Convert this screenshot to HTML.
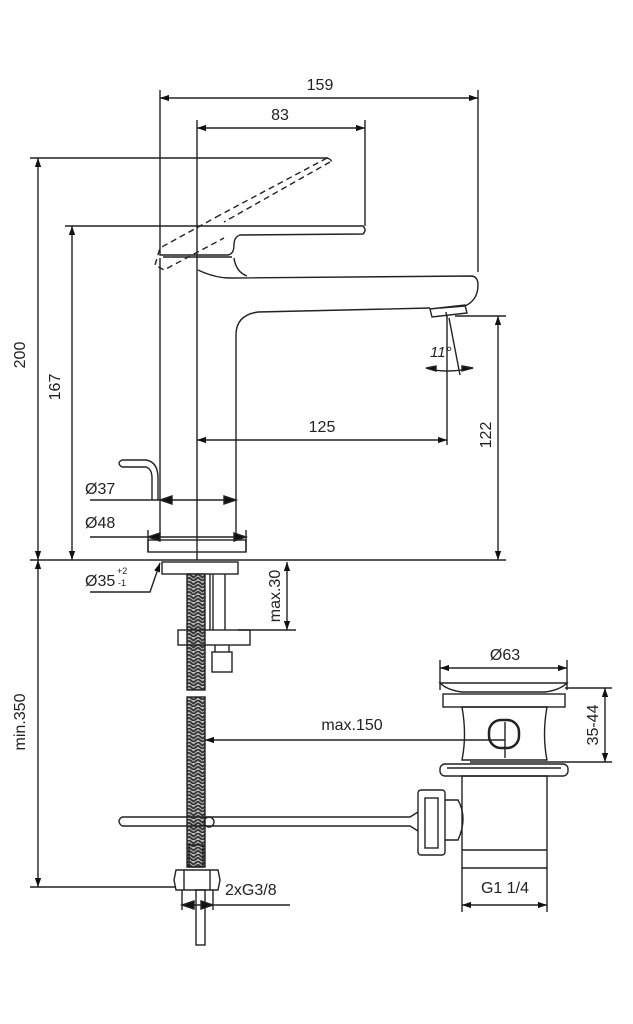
<!DOCTYPE html>
<html><head><meta charset="utf-8"><style>
html,body{margin:0;padding:0;background:#fff}
svg{display:block}
text{font-family:"Liberation Sans",sans-serif;font-size:16px;fill:#222}
</style></head><body>
<svg width="633" height="1024" viewBox="0 0 633 1024" xmlns="http://www.w3.org/2000/svg">
<defs>
<marker id="a" viewBox="0 0 10 10" refX="10" refY="5" markerWidth="9" markerHeight="9" orient="auto-start-reverse" markerUnits="userSpaceOnUse"><path d="M0,1.5 L10,5 L0,8.5z" fill="#111"/></marker>
<pattern id="h" width="9" height="7" patternUnits="userSpaceOnUse"><rect width="9" height="7" fill="#bbb"/><path d="M0,0 L4.5,3.5 L9,0 M0,3.5 L4.5,7 L9,3.5" stroke="#333" stroke-width="1.8" fill="none"/></pattern>
</defs>
<g stroke="#222" stroke-width="1.4" fill="none">
<line x1="160" y1="98" x2="478" y2="98" marker-start="url(#a)" marker-end="url(#a)"/>
<line x1="197" y1="128" x2="365" y2="128" marker-start="url(#a)" marker-end="url(#a)"/>
<line x1="160" y1="90" x2="160" y2="226"/>
<line x1="478" y1="90" x2="478" y2="272"/>
<line x1="197" y1="120" x2="197" y2="226"/>
<line x1="365" y1="120" x2="365" y2="226"/>
<line x1="38" y1="158" x2="38" y2="560" marker-start="url(#a)" marker-end="url(#a)"/>
<line x1="30" y1="158" x2="328" y2="158"/>
<line x1="72" y1="226" x2="72" y2="560" marker-start="url(#a)" marker-end="url(#a)"/>
<line x1="65" y1="226" x2="160" y2="226"/>
<path d="M160,226 L363,226 Q367,230 363,234 L240,235 Q234,237 234,245 Q234,254 228,255 L160,255 Z"/>
<line x1="163" y1="257" x2="232" y2="257"/>
<path d="M327,158 L220,215 M330,162 L224,222" stroke-dasharray="6,4"/>
<path d="M327,158 Q334,160 330,165 M220,215 L160,248 L155,265 L164,270 L224,238" stroke-dasharray="6,4"/>
<path d="M198,270 Q215,278 230,278 L472,276 Q478,277 478,285 Q478,300 465,306 L440,308"/>
<path d="M234,258 Q236,272 247,276"/>
<path d="M160,258 L160,535 M236,535 L236,335 Q236,315 258,312 L430,308"/>
<path d="M430,309 L465,305 L467,313 L432,317 Z"/>
<line x1="446" y1="312" x2="447" y2="318"/>
<line x1="498" y1="316" x2="498" y2="560" marker-start="url(#a)" marker-end="url(#a)"/>
<line x1="455" y1="316" x2="506" y2="316"/>
<line x1="447" y1="316" x2="447" y2="445"/>
<line x1="449" y1="318" x2="460" y2="375"/>
<path d="M426,368 Q445,374 473,368"/>
<path d="M436,366 L426,368 L436,371z M462,366 L473,368 L462,371z" fill="#111"/>
<line x1="197" y1="440" x2="447" y2="440" marker-start="url(#a)" marker-end="url(#a)"/>
<line x1="197" y1="226" x2="197" y2="560"/>
<path d="M122,460 L146,460 Q158,462 158,478 L158,500 M122,467 L146,467 Q152,469 152,478 L152,500"/>
<path d="M122,460 Q116,463 122,467"/>
<line x1="90" y1="500" x2="236" y2="500"/>
<path d="M160,500 L172,496 L172,504z M236,500 L224,496 L224,504z" fill="#111"/>
<line x1="90" y1="537" x2="246" y2="537"/>
<path d="M148,537 L160,533 L160,541z M246,537 L234,533 L234,541z" fill="#111"/>
<line x1="148" y1="530" x2="148" y2="552"/><line x1="246" y1="530" x2="246" y2="552"/>
<rect x="148" y="540" width="98" height="12"/>
<line x1="30" y1="560" x2="506" y2="560"/>
<rect x="162" y="562" width="76" height="12"/>
<polyline points="90,592 150,592 160,563" marker-end="url(#a)"/>
<rect x="187" y="574" width="18" height="116" fill="url(#h)"/>
<rect x="187" y="697" width="18" height="170" fill="url(#h)"/>
<line x1="210" y1="574" x2="210" y2="630"/><line x1="213" y1="574" x2="213" y2="630"/><line x1="225" y1="574" x2="225" y2="630"/>
<rect x="178" y="630" width="72" height="15"/>
<rect x="212" y="652" width="20" height="20"/>
<line x1="215" y1="645" x2="215" y2="652"/><line x1="229" y1="645" x2="229" y2="652"/>
<line x1="287" y1="562" x2="287" y2="630" marker-start="url(#a)" marker-end="url(#a)"/>
<line x1="238" y1="630" x2="296" y2="630"/>
<line x1="205" y1="740" x2="505" y2="740" marker-start="url(#a)"/>
<line x1="440" y1="668" x2="567" y2="668" marker-start="url(#a)" marker-end="url(#a)"/>
<line x1="440" y1="660" x2="440" y2="690"/><line x1="567" y1="660" x2="567" y2="690"/>
<path d="M440,683 L567,683 Q560,690 545,692 L462,692 Q447,690 440,683Z"/>
<rect x="443" y="694" width="122" height="13"/>
<path d="M462,707 L547,707 Q542,735 547,760 L462,760 Q467,735 462,707Z"/>
<line x1="565" y1="688" x2="612" y2="688"/><line x1="470" y1="762" x2="612" y2="762"/>
<rect x="489" y="720" width="30" height="28" rx="12" stroke-width="2.5"/>
<line x1="505" y1="722" x2="505" y2="758"/>
<rect x="440" y="764" width="128" height="12" rx="5"/>
<line x1="447" y1="768" x2="561" y2="768"/>
<path d="M462,776 L547,776 L547,868 L462,868 Z M462,850 L547,850"/>
<path d="M445,800 L458,800 Q468,818 458,840 L445,840"/>
<rect x="418" y="790" width="27" height="65" rx="3"/>
<rect x="425" y="798" width="13" height="50"/>
<line x1="605" y1="688" x2="605" y2="762" marker-start="url(#a)" marker-end="url(#a)"/>
<path d="M122,817 L410,817 L418,812 M122,826 L410,826 L418,831"/>
<path d="M122,817 Q116,821 122,826"/>
<circle cx="209" cy="822" r="5"/>
<line x1="462" y1="868" x2="462" y2="912"/><line x1="547" y1="868" x2="547" y2="912"/>
<line x1="462" y1="905" x2="547" y2="905" marker-start="url(#a)" marker-end="url(#a)"/>
<line x1="38" y1="560" x2="38" y2="887" marker-start="url(#a)" marker-end="url(#a)"/>
<line x1="30" y1="887" x2="175" y2="887"/>
<rect x="189" y="845" width="14" height="22"/>
<path d="M176,870 L218,870 L220,880 L218,890 L176,890 L174,880Z"/>
<line x1="184" y1="870" x2="184" y2="890"/><line x1="210" y1="870" x2="210" y2="890"/>
<rect x="196" y="890" width="9" height="55"/>
<line x1="182" y1="890" x2="182" y2="910"/><line x1="213" y1="890" x2="213" y2="910"/>
<line x1="182" y1="905" x2="290" y2="905"/>
<path d="M182,905 L194,901 L194,909z M213,905 L201,901 L201,909z" fill="#111"/>
</g>
<text x="320" y="90" text-anchor="middle">159</text>
<text x="280" y="120" text-anchor="middle">83</text>
<text x="322" y="432" text-anchor="middle">125</text>
<text transform="translate(25,355) rotate(-90)" text-anchor="middle">200</text>
<text transform="translate(60,387) rotate(-90)" text-anchor="middle">167</text>
<text transform="translate(491,435) rotate(-90)" text-anchor="middle">122</text>
<text x="430" y="357" font-style="italic" style="font-size:15px">11°</text>
<text x="85" y="494">Ø37</text>
<text x="85" y="528">Ø48</text>
<text x="85" y="586">Ø35</text>
<text x="117" y="574" style="font-size:9px">+2</text>
<text x="118" y="586" style="font-size:9px">-1</text>
<text transform="translate(280,596) rotate(-90)" text-anchor="middle">max.30</text>
<text x="505" y="660" text-anchor="middle">Ø63</text>
<text x="352" y="730" text-anchor="middle">max.150</text>
<text transform="translate(598,725) rotate(-90)" text-anchor="middle">35-44</text>
<text transform="translate(25,722) rotate(-90)" text-anchor="middle">min.350</text>
<text x="225" y="895">2xG3/8</text>
<text x="505" y="893" text-anchor="middle">G1 1/4</text>
</svg>
</body></html>
